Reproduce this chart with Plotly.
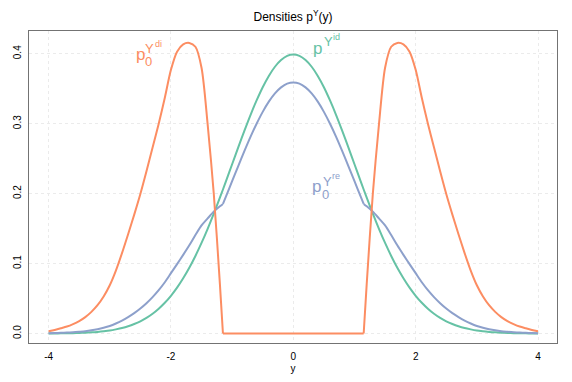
import plotly.graph_objects as go

# sample grid (y)
y_grid = [-4.0, -3.9, -3.8, -3.7, -3.6, -3.5, -3.4, -3.3, -3.2, -3.1, -3.0,
          -2.9, -2.8, -2.7, -2.6, -2.5, -2.4, -2.3, -2.2, -2.1, -2.0,
          -1.9, -1.8, -1.7, -1.6, -1.5, -1.4, -1.3, -1.2, -1.15,
          -1.1, -1.0, -0.9, -0.8, -0.7, -0.6, -0.5, -0.4, -0.3, -0.2, -0.1, 0.0,
          0.1, 0.2, 0.3, 0.4, 0.5, 0.6, 0.7, 0.8, 0.9, 1.0, 1.1,
          1.15, 1.2, 1.3, 1.4, 1.5, 1.6, 1.7, 1.8, 1.9, 2.0,
          2.1, 2.2, 2.3, 2.4, 2.5, 2.6, 2.7, 2.8, 2.9, 3.0,
          3.1, 3.2, 3.3, 3.4, 3.5, 3.6, 3.7, 3.8, 3.9, 4.0]

# p^{Y^id}
dens_id = [0.0001, 0.0002, 0.0003, 0.0004, 0.0006, 0.0009, 0.0012, 0.0017, 0.0024, 0.0033, 0.0044,
           0.0060, 0.0079, 0.0104, 0.0136, 0.0175, 0.0224, 0.0283, 0.0355, 0.0440, 0.0540,
           0.0656, 0.0790, 0.0940, 0.1109, 0.1295, 0.1497, 0.1714, 0.1942, 0.2059,
           0.2179, 0.2420, 0.2661, 0.2897, 0.3123, 0.3332, 0.3521, 0.3683, 0.3814, 0.3910, 0.3970, 0.3989,
           0.3970, 0.3910, 0.3814, 0.3683, 0.3521, 0.3332, 0.3123, 0.2897, 0.2661, 0.2420, 0.2179,
           0.2059, 0.1942, 0.1714, 0.1497, 0.1295, 0.1109, 0.0940, 0.0790, 0.0656, 0.0540,
           0.0440, 0.0355, 0.0283, 0.0224, 0.0175, 0.0136, 0.0104, 0.0079, 0.0060, 0.0044,
           0.0033, 0.0024, 0.0017, 0.0012, 0.0009, 0.0006, 0.0004, 0.0003, 0.0002, 0.0001]

# p0^{Y^di}
dens_di = [0.0033, 0.0052, 0.0075, 0.0100, 0.0135, 0.0178, 0.0235, 0.0310, 0.0405, 0.0530, 0.0690,
           0.0900, 0.1150, 0.1420, 0.1700, 0.1995, 0.2320, 0.2660, 0.3000, 0.3370, 0.3770,
           0.4030, 0.4135, 0.4155, 0.4100, 0.3800, 0.2990, 0.2000, 0.0710, 0.0,
           0.0, 0.0, 0.0, 0.0, 0.0, 0.0, 0.0, 0.0, 0.0, 0.0, 0.0, 0.0,
           0.0, 0.0, 0.0, 0.0, 0.0, 0.0, 0.0, 0.0, 0.0, 0.0, 0.0,
           0.0, 0.0710, 0.2000, 0.2990, 0.3800, 0.4100, 0.4155, 0.4135, 0.4030, 0.3770,
           0.3370, 0.3000, 0.2660, 0.2320, 0.1995, 0.1700, 0.1420, 0.1150, 0.0900, 0.0690,
           0.0530, 0.0405, 0.0310, 0.0235, 0.0178, 0.0135, 0.0100, 0.0075, 0.0052, 0.0033]

# p0^{Y^re}
dens_re = [0.0004, 0.0007, 0.0011, 0.0014, 0.0019, 0.0026, 0.0034, 0.0046, 0.0062, 0.0083, 0.0109,
           0.0144, 0.0186, 0.0236, 0.0292, 0.0358, 0.0434, 0.0521, 0.0620, 0.0733, 0.0863,
           0.0993, 0.1125, 0.1262, 0.1408, 0.1546, 0.1646, 0.1743, 0.1819, 0.1853,
           0.1961, 0.2178, 0.2395, 0.2607, 0.2811, 0.2999, 0.3169, 0.3315, 0.3433, 0.3519, 0.3573, 0.3590,
           0.3573, 0.3519, 0.3433, 0.3315, 0.3169, 0.2999, 0.2811, 0.2607, 0.2395, 0.2178, 0.1961,
           0.1853, 0.1819, 0.1743, 0.1646, 0.1546, 0.1408, 0.1262, 0.1125, 0.0993, 0.0863,
           0.0733, 0.0620, 0.0521, 0.0434, 0.0358, 0.0292, 0.0236, 0.0186, 0.0144, 0.0109,
           0.0083, 0.0062, 0.0046, 0.0034, 0.0026, 0.0019, 0.0014, 0.0011, 0.0007, 0.0004]

x_ticks = [-4, -2, 0, 2, 4]
x_ticktext = ["-4", "-2", "0", "2", "4"]
y_ticks = [0.0, 0.1, 0.2, 0.3, 0.4]
y_ticktext = ["0.0", "0.1", "0.2", "0.3", "0.4"]

GREEN = "#66C2A5"
ORANGE = "#FC8D62"
BLUE = "#8DA0CB"
FONT = "Liberation Sans, Arial, sans-serif"

# the di / re densities break at +-1.15: smooth each piece separately
left_end = y_grid.index(-1.15) + 1
right_start = y_grid.index(1.15)

fig = go.Figure()
fig.add_trace(go.Scatter(x=y_grid, y=dens_id, mode="lines",
                         line=dict(color=GREEN, width=2, shape="spline", smoothing=0.8)))


def add_pieces(dens, color, middle_shape):
    for a, b, shape in [(0, left_end, "spline"),
                        (left_end - 1, right_start + 1, middle_shape),
                        (right_start, len(y_grid), "spline")]:
        fig.add_trace(go.Scatter(x=y_grid[a:b], y=dens[a:b], mode="lines",
                                 line=dict(color=color, width=2, shape=shape, smoothing=0.8)))


add_pieces(dens_re, BLUE, "spline")
add_pieces(dens_di, ORANGE, "linear")


def label(parts, color):
    # parts: (text, x, y, size) pieces of a plotmath-like label
    for text, x, y, size in parts:
        fig.add_annotation(x=x, y=y, xref="x", yref="y", text=text, showarrow=False,
                           xanchor="left", yanchor="middle", borderpad=0,
                           font=dict(family=FONT, size=size, color=color))


label([("p", -2.591, 0.3985, 17), ("0", -2.435, 0.3895, 13),
       ("Y", -2.444, 0.4075, 13), ("di", -2.285, 0.4145, 9)], ORANGE)
label([("p", 0.306, 0.4082, 17), ("Y", 0.478, 0.4172, 13), ("id", 0.628, 0.4235, 9)], GREEN)
label([("p", 0.29, 0.2101, 17), ("0", 0.448, 0.1985, 13),
       ("Y", 0.462, 0.2175, 13), ("re", 0.615, 0.2255, 9)], BLUE)

axis_common = dict(
    showline=True, mirror=True, linecolor="#737373", linewidth=1,
    showgrid=True, gridcolor="#ebebeb", griddash="dot", gridwidth=1,
    zeroline=False, ticks="", automargin=False,
    tickfont=dict(family=FONT, size=10, color="black"),
)

# the page body adds 8px around the figure
fig.update_layout(
    width=564, height=374,
    margin=dict(l=21, r=15, t=23, b=39, pad=0),
    paper_bgcolor="white", plot_bgcolor="white",
    showlegend=False,
    font=dict(family=FONT, color="black"),
    title=dict(text="Densities p<sup>Y</sup>(y)", x=0.5, xref="paper", xanchor="center",
               y=1 - 8.5 / 374, yanchor="middle", font=dict(size=12, color="black")),
    xaxis=dict(range=[-4.32, 4.31], tickvals=x_ticks, ticktext=x_ticktext,
               ticklabelstandoff=4,
               title=dict(text="y", font=dict(size=10), standoff=3), **axis_common),
    yaxis=dict(range=[-0.0135, 0.4325], tickvals=y_ticks, ticktext=y_ticktext,
               tickangle=-90, ticklabelstandoff=3, **axis_common),
)

fig.write_html("out.html")
